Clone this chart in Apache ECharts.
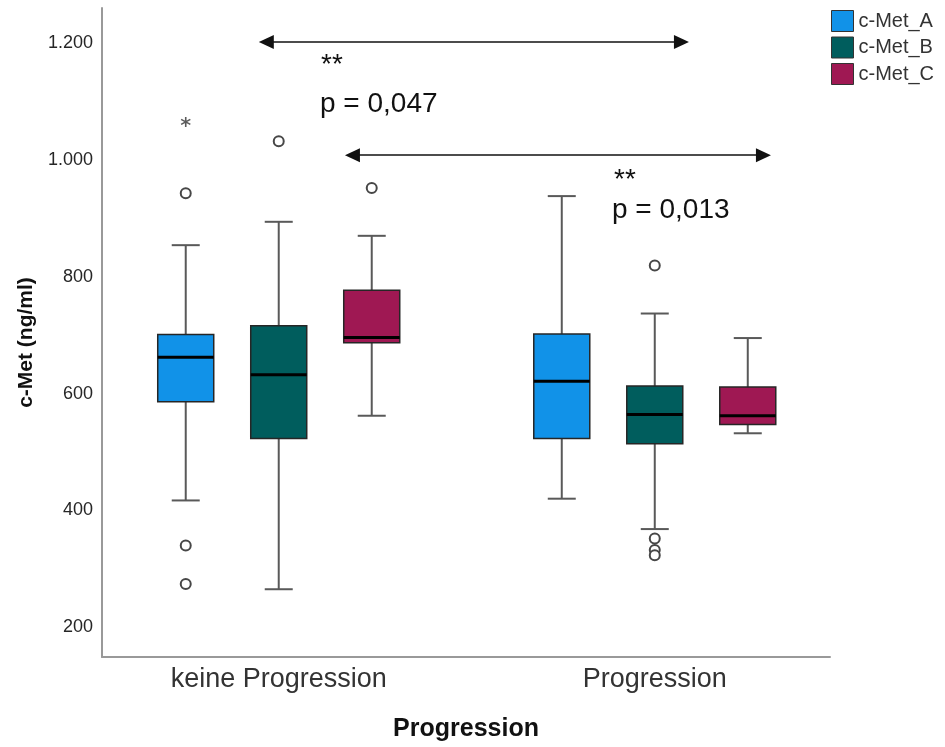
<!DOCTYPE html>
<html>
<head>
<meta charset="utf-8">
<script src="https://cdn.jsdelivr.net/npm/echarts@6/dist/echarts.min.js"></script>
<style>
  html, body { margin: 0; padding: 0; background: #fff; }
  #chart { width: 945px; height: 747px; }
</style>
</head>
<body>
<div id="chart"></div>
<script>
// Groups on the x axis and the three c-Met measurements
const groups = ['keine Progression', 'Progression'];
const seriesNames = ['c-Met_A', 'c-Met_B', 'c-Met_C'];
const yTicks = [200, 400, 600, 800, 1000, 1200];

// Five-number summaries per group: [lower whisker, Q1, median, Q3, upper whisker]
const metA = [[417, 586, 662, 701, 854], [420, 523, 621, 702, 938]];
const metB = [[265, 523, 632, 716, 894], [368, 514, 564, 613, 737]];
const metC = [[562, 687, 696, 777, 870], [532, 547, 562, 611, 695]];

// Outliers (circles): [group index, value]
const outliersA = [[0, 943], [0, 340], [0, 274]];
const outliersB = [[0, 1032], [1, 819], [1, 352], [1, 332], [1, 323]];
const outliersC = [[0, 952]];

// Extreme values (asterisk): [group index, value]
const extremesA = [[0, 1065]];
const extremesB = [];
const extremesC = [];

// Significance arrows: start / end on the group scale and height in ng/ml
const arrowFrom = [0.967, 1.196];
const arrowTo = [2.071, 2.289];
const arrowLevel = [1202, 1008];
const arrowStars = ['**', '**'];
const arrowP = ['p = 0,047', 'p = 0,013'];

const colors = ['#1192e8', '#005d5d', '#9f1853'];
const summaries = [metA, metB, metC];
const outliers = [outliersA, outliersB, outliersC];
const extremes = [extremesA, extremesB, extremesC];

const FONT = '"Liberation Sans", Arial, Helvetica, sans-serif';
const BOX_W = 56;          // box width in px
const CAP_W = 28;          // whisker cap width in px
const OFFSETS = [-93, 0, 93]; // horizontal shift of each box inside its group

const ASTERISK = 'path://M-0.15,-1L0.15,-1L0.15,1L-0.15,1Z' +
  'M0.791,-0.630L0.941,-0.370L-0.791,0.630L-0.941,0.370Z' +
  'M-0.941,-0.370L-0.791,-0.630L0.941,0.370L0.791,0.630Z';

function boxRenderer(offset, color) {
  return function (params, api) {
    const g = api.value(0);
    const pts = [1, 2, 3, 4, 5].map(function (i) { return api.coord([g, api.value(i)]); });
    const cx = pts[0][0] + offset;
    const yLo = pts[0][1], yQ1 = pts[1][1], yMed = pts[2][1], yQ3 = pts[3][1], yHi = pts[4][1];
    const half = BOX_W / 2, cap = CAP_W / 2;
    const whisker = { stroke: '#595959', lineWidth: 2 };
    return {
      type: 'group',
      children: [
        { type: 'line', shape: { x1: cx, y1: yHi, x2: cx, y2: yQ3 }, style: whisker },
        { type: 'line', shape: { x1: cx, y1: yQ1, x2: cx, y2: yLo }, style: whisker },
        { type: 'line', shape: { x1: cx - cap, y1: yHi, x2: cx + cap, y2: yHi }, style: whisker },
        { type: 'line', shape: { x1: cx - cap, y1: yLo, x2: cx + cap, y2: yLo }, style: whisker },
        { type: 'rect', shape: { x: cx - half, y: yQ3, width: BOX_W, height: yQ1 - yQ3 },
          style: { fill: color, stroke: '#262626', lineWidth: 1.5 } },
        { type: 'line', shape: { x1: cx - half, y1: yMed, x2: cx + half, y2: yMed },
          style: { stroke: '#000', lineWidth: 3 } }
      ]
    };
  };
}

const series = [];
seriesNames.forEach(function (name, k) {
  series.push({
    name: name,
    type: 'custom',
    renderItem: boxRenderer(OFFSETS[k], colors[k]),
    itemStyle: { color: colors[k] },
    encode: { x: 0, y: [1, 2, 3, 4, 5] },
    data: summaries[k].map(function (s, i) { return [i + 1].concat(s); }),
    z: 2
  });
  series.push({
    name: name,
    type: 'scatter',
    symbol: 'circle',
    symbolSize: 10,
    symbolOffset: [OFFSETS[k], 0],
    itemStyle: { color: '#fff', borderColor: '#474747', borderWidth: 2, opacity: 1 },
    data: outliers[k].map(function (o) { return [o[0] + 1, o[1]]; }),
    z: 3
  });
  series.push({
    name: name,
    type: 'scatter',
    symbol: ASTERISK,
    symbolSize: 10,
    symbolOffset: [OFFSETS[k], 0],
    itemStyle: { color: '#333' },
    data: extremes[k].map(function (o) { return [o[0] + 1, o[1]]; }),
    z: 3
  });
});

series.push({
  name: 'arrows',
  type: 'line',
  data: [],
  silent: true,
  markLine: {
    silent: true,
    symbol: ['triangle', 'triangle'],
    symbolSize: [14, 15],
    lineStyle: { color: '#111', width: 1.6, type: 'solid' },
    label: { show: false },
    emphasis: { disabled: true },
    data: arrowFrom.map(function (f, i) {
      return [{ coord: [f, arrowLevel[i]] }, { coord: [arrowTo[i], arrowLevel[i]] }];
    })
  }
});

const textStyle = { fontFamily: FONT, fontSize: 28, fill: '#111', align: 'left', verticalAlign: 'middle' };
const option = {
  animation: false,
  backgroundColor: '#fff',
  textStyle: { fontFamily: FONT },
  grid: { left: 102, right: 115, top: 8, bottom: 88, containLabel: false },
  legend: {
    orient: 'vertical',
    left: 831,
    top: 10,
    padding: 0,
    itemWidth: 22,
    itemHeight: 21,
    itemGap: 4.5,
    selectedMode: false,
    textStyle: { fontFamily: FONT, fontSize: 20, color: '#333' },
    data: seriesNames.map(function (n, k) {
      return { name: n, icon: 'rect', itemStyle: { color: colors[k], borderColor: '#333', borderWidth: 1 } };
    })
  },
  xAxis: {
    type: 'value',
    min: 0.53,
    max: 2.466,
    splitLine: { show: false },
    axisTick: { show: false },
    axisLine: { show: true, onZero: false, lineStyle: { color: '#999', width: 2 } },
    axisLabel: {
      customValues: groups.map(function (g, i) { return i + 1; }),
      formatter: function (v) { return groups[Math.round(v) - 1]; },
      fontFamily: FONT, fontSize: 27, color: '#333', margin: 9
    },
    name: 'Progression',
    nameLocation: 'middle',
    nameGap: 60,
    nameTextStyle: { fontFamily: FONT, fontSize: 25, fontWeight: 'bold', color: '#111' }
  },
  yAxis: {
    type: 'value',
    min: 149,
    max: 1260,
    splitLine: { show: false },
    axisTick: { show: false },
    axisLine: { show: true, lineStyle: { color: '#999', width: 2 } },
    axisLabel: {
      customValues: yTicks,
      formatter: function (v) { return String(v).replace(/\B(?=(\d{3})+(?!\d))/g, '.'); },
      fontFamily: FONT, fontSize: 18, color: '#262626', margin: 9
    },
    name: 'c-Met (ng/ml)',
    nameLocation: 'middle',
    nameGap: 60,
    nameTextStyle: { fontFamily: FONT, fontSize: 21, fontWeight: 'bold', color: '#111', padding: [0, 20, 0, 0] }
  },
  graphic: [
    { type: 'text', x: 321, y: 65, style: Object.assign({ text: arrowStars[0] }, textStyle) },
    { type: 'text', x: 320, y: 104, style: Object.assign({ text: arrowP[0] }, textStyle) },
    { type: 'text', x: 614, y: 180, style: Object.assign({ text: arrowStars[1] }, textStyle) },
    { type: 'text', x: 612, y: 210, style: Object.assign({ text: arrowP[1] }, textStyle) }
  ],
  series: series
};

const chart = echarts.init(document.getElementById('chart'), null, { renderer: 'canvas' });
chart.setOption(option);
</script>
</body>
</html>
